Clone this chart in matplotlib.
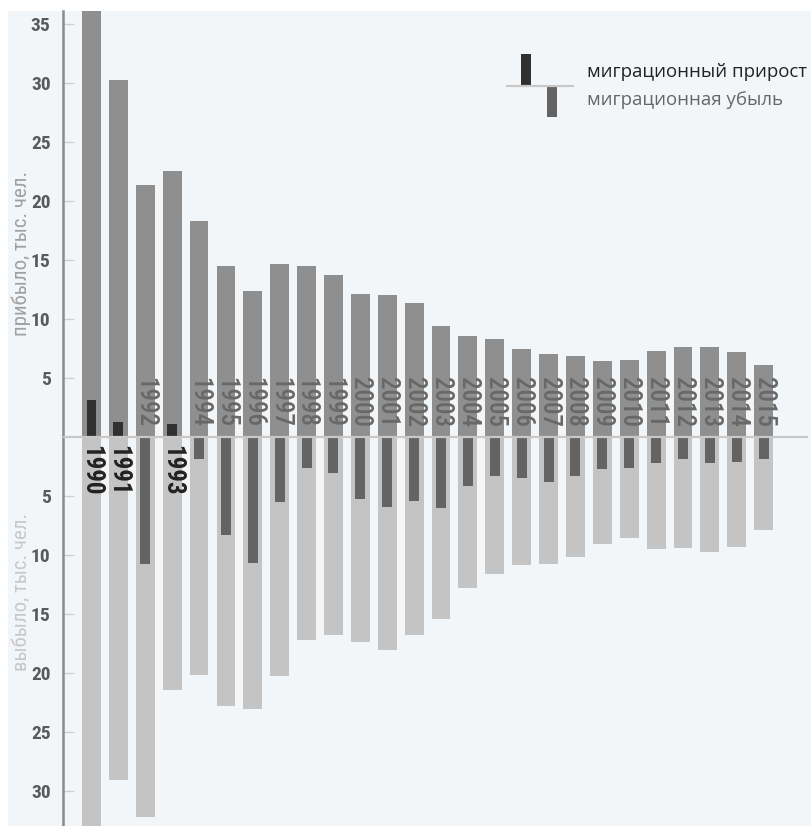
import matplotlib
matplotlib.use("Agg")
import matplotlib.pyplot as plt
from matplotlib.patches import Rectangle
from matplotlib.lines import Line2D

years = list(range(1990, 2016))

# thousand people
arrived = [37.5, 30.3, 21.4, 22.6, 18.3, 14.5, 12.4, 14.7, 14.5, 13.7, 12.1, 12.0, 11.35,
           9.45, 8.6, 8.35, 7.45, 7.0, 6.9, 6.4, 6.55, 7.3, 7.6, 7.6, 7.2, 6.1]
departed = [34.0, 29.1, 32.2, 21.5, 20.2, 22.8, 23.1, 20.3, 17.2, 16.8, 17.4, 18.05, 16.8,
            15.4, 12.8, 11.65, 10.9, 10.8, 10.2, 9.1, 8.6, 9.5, 9.45, 9.8, 9.35, 7.9]
net = [3.1, 1.25, -10.8, 1.1, -1.9, -8.3, -10.7, -5.5, -2.65, -3.1, -5.3, -5.95, -5.45,
       -6.0, -4.2, -3.3, -3.5, -3.85, -3.35, -2.75, -2.6, -2.25, -1.9, -2.2, -2.15, -1.85]

top_ticks = [5, 10, 15, 20, 25, 30, 35]
bottom_ticks = [5, 10, 15, 20, 25, 30]

label_up = "прибыло, тыс. чел."
label_down = "выбыло, тыс. чел."
legend_gain = "миграционный прирост"
legend_loss = "миграционная убыль"

# first installed family wins, condensed ones preferred
NARROW = ["Roboto Condensed", "Liberation Sans Narrow", "Open Sans Condensed", "Roboto", "DejaVu Sans"]
REGULAR = ["Open Sans", "DejaVu Sans"]
BG = "#f3f6f8"


def main():
    W, H = 811, 826
    fig = plt.figure(figsize=(W / 100, H / 100), dpi=100)
    fig.patch.set_facecolor("white")

    # light panel behind everything
    fig.patches.append(Rectangle((8 / W, 0), 1 - 8 / W, 1 - 11 / H,
                                 transform=fig.transFigure, facecolor=BG,
                                 edgecolor="none", zorder=-10))

    ax = fig.add_axes([63 / W, 0, (808 - 63) / W, 1 - 11 / H])
    ax.set_facecolor("none")

    ax.bar(years, arrived, width=0.7, color="#8f8f8f", zorder=2)
    ax.bar(years, [-d for d in departed], width=0.7, color="#c4c4c4", zorder=2)
    net_colors = ["#303030" if n > 0 else "#646464" for n in net]
    ax.bar(years, net, width=0.37, color=net_colors, zorder=3)

    ax.axhline(0, color="#c8c8c8", lw=1.6, zorder=4)

    for y, n in zip(years, net):
        if n > 0:
            ax.annotate(str(y), xy=(y, 0), xytext=(0, -6), textcoords="offset points",
                        rotation=270, ha="center", va="top", fontsize=18,
                        fontweight="bold", color="#222222", family=NARROW, zorder=5)
        else:
            ax.annotate(str(y), xy=(y, 0), xytext=(0, 7), textcoords="offset points",
                        rotation=270, ha="center", va="bottom", fontsize=18,
                        fontweight="medium", color="#686868", family=NARROW, zorder=5)

    ax.set_xlim(1988.94, 2016.65)
    ax.set_ylim(-33.0, 36.13)

    ticks = [-t for t in bottom_ticks[::-1]] + top_ticks
    ax.set_yticks(ticks)
    ax.set_yticklabels([str(abs(t)) for t in ticks], family=NARROW,
                       fontweight="bold", fontsize=14, color="#5a5a5a")
    ax.tick_params(axis="y", direction="in", length=8, width=1, color="#d0d0d0", pad=9)
    ax.set_xticks([])

    for s in ["top", "right", "bottom"]:
        ax.spines[s].set_visible(False)
    ax.spines["left"].set_color("#8a8a8a")
    ax.spines["left"].set_linewidth(1.8)

    fig.text(21 / W, 1 - 253 / H, label_up, rotation=90, ha="center", va="center",
             fontsize=15, color="#a0a0a0", family=NARROW)
    fig.text(21 / W, 1 - 592 / H, label_down, rotation=90, ha="center", va="center",
             fontsize=15, color="#c8c8c8", family=NARROW)

    # legend drawn in pixel space
    lg = fig.add_axes([0, 0, 1, 1])
    lg.set_xlim(0, W)
    lg.set_ylim(H, 0)
    lg.axis("off")
    lg.add_patch(Rectangle((521, 54), 10, 32, facecolor="#303030", edgecolor="none"))
    lg.add_patch(Rectangle((547, 86), 10, 31, facecolor="#646464", edgecolor="none"))
    lg.add_line(Line2D([507, 573], [85.5, 85.5], color="#c8c8c8", lw=1.6))
    lg.text(587, 72, legend_gain, ha="left", va="center", fontsize=13.4,
            color="#222222", family=REGULAR)
    lg.text(587, 100, legend_loss, ha="left", va="center", fontsize=13.4,
            color="#666666", family=REGULAR)

    fig.savefig("out.png", dpi=100, facecolor=fig.get_facecolor())


if __name__ == "__main__":
    main()
